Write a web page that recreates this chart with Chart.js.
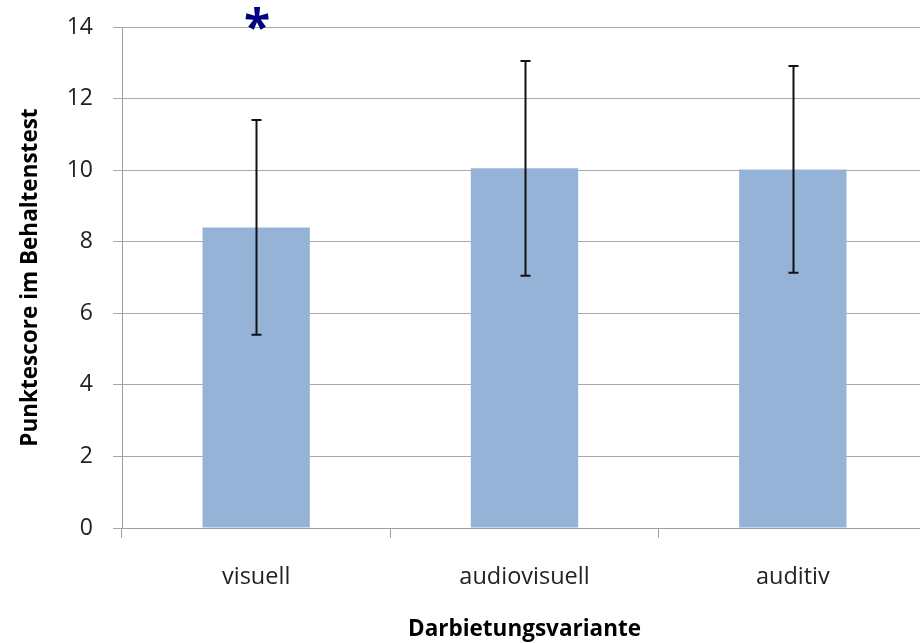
<!DOCTYPE html>
<html>
<head>
<meta charset="utf-8">
<script src="https://cdn.jsdelivr.net/npm/chart.js@4/dist/chart.umd.min.js"></script>
<style>
  html, body { margin: 0; padding: 0; background: #fff; overflow: hidden; }
  #wrap { width: 930px; height: 643px; }
</style>
</head>
<body>
<div id="wrap"><canvas id="c" width="930" height="643"></canvas></div>
<script>
// Darbietungsvarianten and mean scores with standard deviations
const categories = ['visuell', 'audiovisuell', 'auditiv'];
const means = [8.40, 10.05, 10.02];
const sds = [3.00, 3.00, 2.89];
const yTicks = [0, 2, 4, 6, 8, 10, 12, 14];
// significance marker above the first group
const marks = ['*', '', ''];

const FONT = '"Open Sans", Lato, sans-serif';

// draws ±SD whiskers with caps on every bar
const errorBars = {
  id: 'errorBars',
  afterDatasetsDraw(chart) {
    const { ctx, scales: { x, y } } = chart;
    ctx.save();
    ctx.strokeStyle = '#111';
    ctx.lineWidth = 2;
    means.forEach((m, i) => {
      const px = Math.round(x.getPixelForValue(i)) + 0.5;
      const top = y.getPixelForValue(m + sds[i]);
      const bot = y.getPixelForValue(m - sds[i]);
      ctx.beginPath();
      ctx.moveTo(px, top); ctx.lineTo(px, bot);
      ctx.moveTo(px - 5, top); ctx.lineTo(px + 5, top);
      ctx.moveTo(px - 5, bot); ctx.lineTo(px + 5, bot);
      ctx.stroke();
    });
    ctx.restore();
  }
};

// significance asterisks at the top of the value axis
const sigMarks = {
  id: 'sigMarks',
  afterDraw(chart) {
    const { ctx, scales: { x, y } } = chart;
    ctx.save();
    ctx.fillStyle = '#000080';
    ctx.font = 'bold 48px ' + FONT;
    ctx.textAlign = 'center';
    ctx.textBaseline = 'alphabetic';
    marks.forEach((t, i) => {
      if (!t) return;
      ctx.fillText(t, x.getPixelForValue(i) + 1, y.getPixelForValue(14) + 17);
    });
    ctx.restore();
  }
};

new Chart(document.getElementById('c'), {
  type: 'bar',
  data: {
    labels: categories,
    datasets: [{
      data: means,
      backgroundColor: '#95b3d7',
      borderWidth: 0,
      categoryPercentage: 1.0,
      barPercentage: 0.4
    }]
  },
  options: {
    responsive: false,
    animation: false,
    devicePixelRatio: 1,
    layout: { padding: { left: 0, top: 27, right: 3, bottom: 0 } },
    plugins: { legend: { display: false }, tooltip: { enabled: false } },
    scales: {
      x: {
        grid: { drawOnChartArea: false, drawTicks: true, tickLength: 10, color: '#a0a0a0', offset: true },
        border: { color: '#a0a0a0', width: 1 },
        ticks: { color: '#222', font: { family: FONT, size: 23.5 }, padding: 25 },
        title: {
          display: true, text: 'Darbietungsvariante', color: '#000',
          font: { family: FONT, size: 22.5, weight: 'bold' }, padding: { top: 5, bottom: 0 }
        },
        afterFit(s) { s.height = 115; }
      },
      y: {
        min: 0, max: 14,
        afterBuildTicks(s) { s.ticks = yTicks.map(v => ({ value: v })); },
        grid: { color: '#a8a8a8', tickLength: 9 },
        border: { color: '#a0a0a0', width: 1 },
        ticks: { color: '#222', font: { family: FONT, size: 23 }, padding: 20 },
        title: {
          display: true, text: 'Punktescore im Behaltenstest', color: '#000',
          font: { family: FONT, size: 22.5, weight: 'bold' }, padding: { top: 17, bottom: 0 }
        },
        afterFit(s) { s.width = 122; s.paddingTop = 0; s.paddingBottom = 0; }
      }
    }
  },
  plugins: [errorBars, sigMarks]
});
</script>
</body>
</html>
